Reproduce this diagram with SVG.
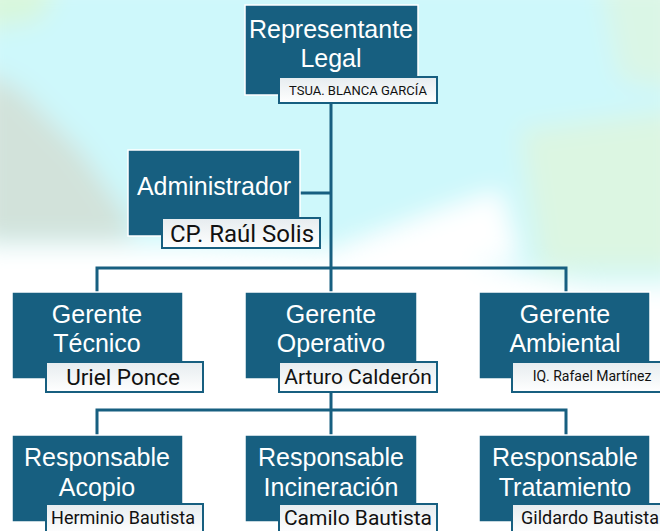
<svg xmlns="http://www.w3.org/2000/svg" width="660" height="531" viewBox="0 0 660 531">
<defs>
<style>
.box{fill:#175f80;stroke:#ffffff;stroke-width:1.5}
.nm{fill:url(#ng);stroke:#175f80;stroke-width:2}
.t{font-family:"Liberation Sans",Arial,sans-serif;fill:#ffffff;text-anchor:middle;font-size:25px}
.n{font-family:Roboto,"Liberation Sans",sans-serif;fill:#111111;text-anchor:middle}
.c{stroke:#175f80;stroke-width:3;fill:none}
</style>
<linearGradient id="ng" x1="0" y1="0" x2="0" y2="1">
<stop offset="0" stop-color="#e6ecef"/>
<stop offset="1" stop-color="#ffffff"/>
</linearGradient>
<filter id="bl" x="-20%" y="-20%" width="140%" height="140%"><feGaussianBlur stdDeviation="12"/></filter>
</defs>
<g id="background">
<rect x="0" y="0" width="660" height="531" fill="#ffffff"/>
<g filter="url(#bl)">
<polygon points="-20,-20 680,-20 680,300 560,280 460,260 330,250 200,245 0,245 -20,245" fill="#cef8fb"/>
<polygon points="-20,70 20,90 80,150 130,220 130,240 -20,240" fill="#d2e2da"/>
<polygon points="-20,-20 60,-20 40,20 -20,30" fill="#d8f7dc"/>
<polygon points="520,130 680,110 680,270 540,270" fill="#dcf6e2"/>
<polygon points="600,-20 680,-20 680,90 620,80" fill="#daf6e6"/>
<polygon points="330,250 440,210 500,190 520,260 460,262" fill="#ffffff"/>
<rect x="-20" y="285" width="700" height="260" fill="#ffffff"/>
</g>
</g>
<g id="connectors">
<path class="c" d="M331,103 V292 M300,193 H331 M97,292 V268 H566 V292"/>
<path class="c" d="M331,392 V435 M97,435 V410 H566 V435"/>
</g>
<g id="representante">
<rect class="box" x="245" y="5" width="173" height="90"/>
<text class="t" x="331" y="38">Representante</text>
<text class="t" x="331" y="67">Legal</text>
<rect class="nm" x="279" y="77" width="158" height="26"/>
<text class="n" x="358" y="95" font-size="13">TSUA. BLANCA GARCÍA</text>
</g>
<g id="administrador">
<rect class="box" x="128" y="150" width="172" height="86"/>
<text class="t" x="214" y="195">Administrador</text>
<rect class="nm" x="162" y="218" width="158" height="30"/>
<text class="n" x="242" y="242" font-size="24">CP. Raúl Solis</text>
</g>
<g id="gerente-tecnico">
<rect class="box" x="12" y="292" width="171" height="87"/>
<text class="t" x="97" y="323">Gerente</text>
<text class="t" x="97" y="352">Técnico</text>
<rect class="nm" x="46" y="362" width="157" height="30"/>
<text class="n" x="123" y="385" font-size="22.5">Uriel Ponce</text>
</g>
<g id="gerente-operativo">
<rect class="box" x="245" y="292" width="172" height="87"/>
<text class="t" x="331" y="323">Gerente</text>
<text class="t" x="331" y="352">Operativo</text>
<rect class="nm" x="279" y="362" width="158" height="30"/>
<text class="n" x="358" y="384" font-size="21">Arturo Calderón</text>
</g>
<g id="gerente-ambiental">
<rect class="box" x="479" y="292" width="171" height="87"/>
<text class="t" x="565" y="323">Gerente</text>
<text class="t" x="565" y="352">Ambiental</text>
<rect class="nm" x="512" y="362" width="152" height="30"/>
<text class="n" x="592" y="381" font-size="14">IQ. Rafael Martínez</text>
</g>
<g id="responsable-acopio">
<rect class="box" x="12" y="435" width="171" height="87"/>
<text class="t" x="97" y="466">Responsable</text>
<text class="t" x="97" y="496">Acopio</text>
<rect class="nm" x="46" y="504" width="157" height="30"/>
<text class="n" x="123" y="524" font-size="18">Herminio Bautista</text>
</g>
<g id="responsable-incineracion">
<rect class="box" x="245" y="435" width="172" height="87"/>
<text class="t" x="331" y="466">Responsable</text>
<text class="t" x="331" y="496">Incineración</text>
<rect class="nm" x="279" y="504" width="158" height="30"/>
<text class="n" x="358" y="525" font-size="21">Camilo Bautista</text>
</g>
<g id="responsable-tratamiento">
<rect class="box" x="479" y="435" width="171" height="87"/>
<text class="t" x="565" y="466">Responsable</text>
<text class="t" x="565" y="496">Tratamiento</text>
<rect class="nm" x="512" y="504" width="152" height="30"/>
<text class="n" x="590" y="524" font-size="18">Gildardo Bautista</text>
</g>
</svg>
